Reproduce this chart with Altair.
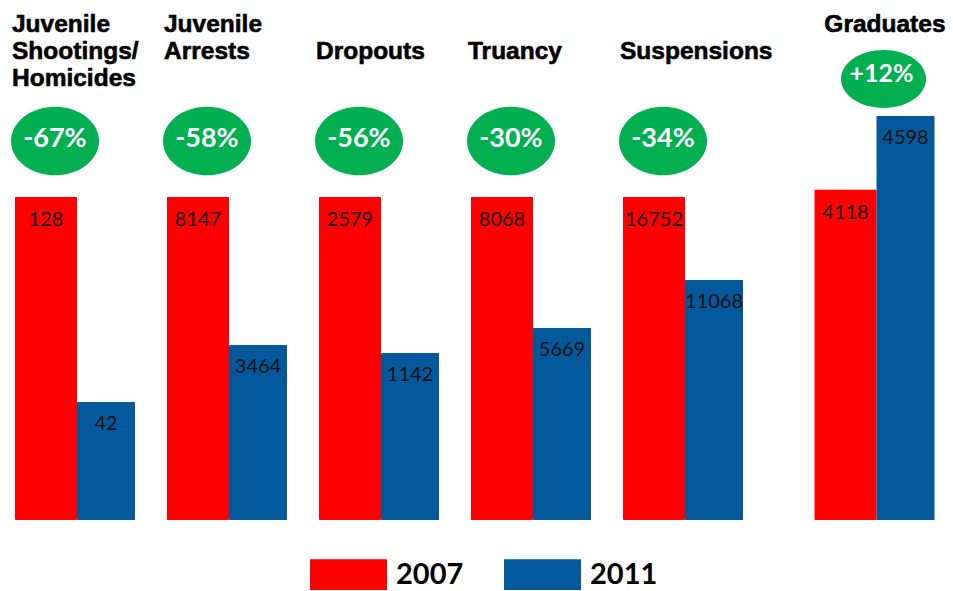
import altair as alt
import pandas as pd

# ---------------- data ----------------
categories = ["Juvenile Shootings/Homicides", "Juvenile Arrests", "Dropouts",
              "Truancy", "Suspensions", "Graduates"]
titles = ["Juvenile\nShootings/\nHomicides", "Juvenile\nArrests", "\nDropouts",
          "\nTruancy", "\nSuspensions", "Graduates"]
years = ["2007", "2011"]
values_2007 = [128, 8147, 2579, 8068, 16752, 4118]
values_2011 = [42, 3464, 1142, 5669, 11068, 4598]
# bar heights as drawn in the picture (2007 bar of the first groups = 100)
height_2007 = [100, 100, 100, 100, 100, 102.2]
height_2011 = [36.5, 54.2, 51.7, 59.4, 74.3, 125.1]
change = ["-67%", "-58%", "-56%", "-30%", "-34%", "+12%"]

# ---------------- layout ----------------
SLOT = [0, 1, 2, 3, 4, 5.26]          # group slot along the x axis
RED = "#FF0000"
BLUE = "#03599C"
GREEN = "#00B050"
W, H = 937, 583

rows = []
for i, c in enumerate(categories):
    rows.append(dict(cat=c, slot=SLOT[i], year=years[0], value=values_2007[i], h=height_2007[i]))
    rows.append(dict(cat=c, slot=SLOT[i], year=years[1], value=values_2011[i], h=height_2011[i]))
bars = pd.DataFrame(rows)
groups = pd.DataFrame(dict(cat=categories, slot=SLOT, title=titles, change=change))

xs = alt.Scale(domain=[-0.4539, 5.7105], nice=False, zero=False, padding=0)
ys = alt.Scale(domain=[-21.98, 158.5], nice=False, zero=False, padding=0)
X = alt.X("slot:Q", scale=xs, axis=None)
Y = alt.Y("h:Q", scale=ys, axis=None, stack=None)
color = alt.Color(
    "year:N",
    scale=alt.Scale(domain=years, range=[RED, BLUE]),
    legend=alt.Legend(
        title=None, orient="none", legendX=302, legendY=528, direction="horizontal",
        symbolType="M-1,-0.4H1V0.4H-1Z", symbolSize=5929, symbolStrokeWidth=0,
        symbolOpacity=1, labelFont="Lato", labelFontSize=29, labelFontWeight="bold",
        labelColor="black", labelOffset=9, columnPadding=40, padding=0,
    ),
)

base = alt.Chart(bars)
bar07 = base.transform_filter(alt.datum.year == "2007").mark_bar(
    width=62, xOffset=-31, cornerRadius=1).encode(x=X, y=Y, color=color)
bar11 = base.transform_filter(alt.datum.year == "2011").mark_bar(
    width=58, xOffset=29, cornerRadius=1).encode(x=X, y=Y, color=color)

lab07 = base.transform_filter(alt.datum.year == "2007").mark_text(
    font="Lato", fontSize=20, color="#111111", dx=-31, dy=23, baseline="middle",
    align="center").encode(x=X, y=Y, text="value:Q")
lab11 = base.transform_filter(alt.datum.year == "2011").mark_text(
    font="Lato", fontSize=20, color="#111111", dx=29, dy=22, baseline="middle",
    align="center").encode(x=X, y=Y, text="value:Q")

gbase = alt.Chart(groups)
not_grad = alt.datum.cat != "Graduates"
is_grad = alt.datum.cat == "Graduates"

title_main = gbase.transform_filter(not_grad).mark_text(
    font="Liberation Sans", fontSize=24.5, fontWeight="bold", color="black",
    stroke="black", strokeWidth=0.6, align="left", baseline="alphabetic",
    lineBreak="\n", lineHeight=27, dx=-65).encode(x=X, y=alt.value(24), text="title:N")
title_grad = gbase.transform_filter(is_grad).mark_text(
    font="Liberation Sans", fontSize=24.5, fontWeight="bold", color="black",
    stroke="black", strokeWidth=0.6, align="right", baseline="alphabetic",
    lineBreak="\n", lineHeight=27, dx=69).encode(x=X, y=alt.value(24), text="title:N")

ell_main = gbase.transform_filter(not_grad).mark_point(
    shape="M-1,0A1,0.78,0,1,1,1,0A1,0.78,0,1,1,-1,0Z", size=7744, filled=True,
    fill=GREEN, opacity=1, strokeWidth=0, xOffset=-22).encode(x=X, y=alt.value(133))
ell_grad = gbase.transform_filter(is_grad).mark_point(
    shape="M-1,0A1,0.68,0,1,1,1,0A1,0.68,0,1,1,-1,0Z", size=7225, filled=True,
    fill=GREEN, opacity=1, strokeWidth=0, xOffset=7).encode(x=X, y=alt.value(71))

pct_main = gbase.transform_filter(not_grad).mark_text(
    font="Lato", fontSize=27, fontWeight="bold", color="white", align="center",
    baseline="middle", dx=-22).encode(x=X, y=alt.value(131), text="change:N")
pct_grad = gbase.transform_filter(is_grad).mark_text(
    font="Lato", fontSize=25, fontWeight="bold", color="white", align="center",
    baseline="middle", dx=5).encode(x=X, y=alt.value(66), text="change:N")

chart = alt.layer(
    bar07, bar11, lab07, lab11, title_main, title_grad,
    ell_main, ell_grad, pct_main, pct_grad,
).properties(
    width=W, height=H, autosize="none", padding=0
).configure_view(stroke=None)

chart.save("out.html", embed_options={"renderer": "svg", "actions": False})
